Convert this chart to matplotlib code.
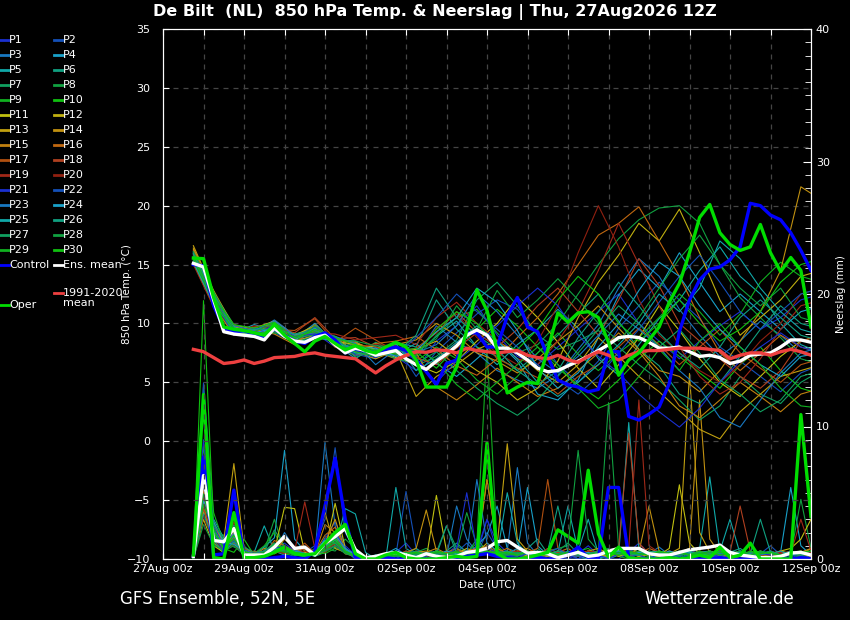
import matplotlib
matplotlib.use('Agg')
import matplotlib.pyplot as plt
from matplotlib.lines import Line2D
import numpy as np
from datetime import datetime, timedelta

W, H = 850, 620

# ---- data (hours counted from 27Aug 00z, 6-hourly from +18h) ----
ens_mean_t = [15.1, 14.8, 12.0, 9.3, 9.1, 9.0, 8.9, 8.6, 9.6, 8.9,
              8.5, 8.4, 8.8, 9.0, 8.2, 7.5, 7.9, 7.7, 7.3, 7.5,
              7.7, 7.0, 6.5, 6.1, 6.8, 7.4, 8.1, 9.0, 9.45, 9.0,
              7.9, 7.9, 7.5, 6.9, 6.2, 5.9, 6.0, 6.4, 6.8, 7.2,
              7.7, 8.2, 8.8, 8.9, 8.8, 8.4, 7.9, 7.9, 8.0, 7.6,
              7.2, 7.3, 7.1, 6.6, 6.8, 7.3, 7.4, 7.5, 8.0, 8.6,
              8.6, 8.4]
clim_t = [7.8, 7.6, 7.1, 6.6, 6.7, 6.9, 6.6, 6.8, 7.1, 7.15,
          7.2, 7.4, 7.5, 7.3, 7.2, 7.1, 7.0, 6.4, 5.8, 6.4,
          6.9, 7.3, 7.6, 7.55, 7.75, 7.7, 7.5, 7.9, 7.7, 7.6,
          7.5, 7.6, 7.7, 7.3, 7.1, 7.0, 7.3, 6.9, 6.7, 7.2,
          7.6, 7.3, 6.9, 7.3, 7.6, 7.7, 7.7, 7.8, 7.9, 7.9,
          7.9, 7.8, 7.7, 7.0, 7.3, 7.5, 7.5, 7.3, 7.6, 7.8,
          7.6, 7.3]
control_t = [15.0, 14.9, 11.5, 9.6, 9.3, 9.4, 9.1, 8.8, 9.6, 9.0,
             8.5, 8.3, 8.9, 9.2, 8.6, 7.5, 7.9, 7.7, 7.5, 7.8,
             8.0, 7.7, 6.9, 5.9, 4.8, 6.6, 6.9, 9.2, 9.2, 8.0,
             8.0, 10.6, 12.2, 9.7, 9.3, 7.2, 5.2, 4.8, 4.6, 4.2,
             4.4, 7.6, 7.6, 2.1, 1.8, 2.3, 2.9, 4.9, 9.3, 12.0,
             13.7, 14.6, 14.8, 15.4, 16.5, 20.2, 20.0, 19.2, 18.8, 17.7,
             16.2, 14.5]
oper_t = [15.55, 15.5, 12.2, 9.7, 9.5, 9.4, 9.2, 9.0, 9.9, 9.0,
          8.3, 7.6, 8.5, 8.9, 8.3, 7.75, 8.1, 7.7, 7.5, 8.0,
          8.4, 8.0, 6.9, 4.6, 4.6, 4.6, 6.3, 9.4, 12.85, 11.1,
          7.75, 4.1, 4.6, 5.0, 4.9, 7.75, 10.9, 10.1, 10.9, 11.0,
          10.5, 8.4, 5.6, 6.9, 7.5, 8.6, 9.7, 11.8, 13.4, 16.0,
          19.0, 20.1, 17.7, 16.7, 16.2, 16.5, 18.4, 16.0, 14.4, 15.6,
          14.5, 9.7]

ens_mean_pr = [0.2, 6.3, 1.4, 1.3, 2.3, 0.3, 0.3, 0.3, 0.9, 1.7,
               0.8, 0.9, 0.3, 1.2, 1.7, 2.3, 0.7, 0.1, 0.2, 0.4,
               0.5, 0.3, 0.1, 0.4, 0.2, 0.1, 0.2, 0.5, 0.6, 0.8,
               1.3, 1.4, 0.9, 0.45, 0.5, 0.4, 0.1, 0.3, 0.5, 0.2,
               0.3, 0.6, 0.8, 0.8, 0.8, 0.4, 0.3, 0.3, 0.5, 0.7,
               0.8, 0.9, 1.05, 0.5, 0.3, 0.2, 0.1, 0.1, 0.2, 0.45,
               0.5, 0.3]
control_pr = [0.2, 7.7, 0.3, 0.4, 5.2, 0.1, 0.0, 0.0, 0.1, 0.2,
              0.1, 0.0, 0.6, 4.0, 7.6, 3.0, 0.1, 0.0, 0.0, 0.1,
              0.0, 0.0, 0.1, 0.0, 0.0, 0.0, 0.1, 0.2, 0.3, 0.4,
              0.2, 0.1, 0.0, 0.0, 0.1, 0.0, 0.0, 0.3, 0.9, 0.1,
              0.0, 5.4, 5.4, 0.1, 0.0, 0.0, 0.0, 0.0, 0.0, 0.1,
              0.0, 0.0, 0.1, 0.0, 0.0, 0.0, 0.0, 0.1, 0.0, 0.0,
              0.1, 0.0]
oper_pr = [0.3, 12.4, 0.1, 0.0, 3.5, 0.1, 0.1, 0.2, 0.5, 0.9,
           0.4, 0.3, 0.4, 1.2, 2.0, 2.6, 0.4, 0.0, 0.0, 0.3,
           0.5, 0.1, 0.0, 0.0, 0.0, 0.1, 0.2, 0.1, 0.2, 8.75,
           0.4, 0.0, 0.0, 0.1, 0.3, 0.5, 2.2, 1.7, 1.2, 6.7,
           1.9, 0.15, 0.9, 0.1, 0.0, 0.0, 0.0, 0.1, 0.0, 0.1,
           0.3, 0.1, 0.9, 0.1, 0.3, 1.2, 0.0, 0.0, 0.0, 0.0,
           10.9, 3.2]

# members: temperature every 12 h from +18h
p1_t = [15.8, 12.0, 9.4, 9.0, 9.8, 8.6, 9.2, 8.0, 7.6, 7.9, 7.2, 6.0, 8.5, 9.8, 11.5, 9.0, 7.2, 6.5, 8.0, 9.5, 11.0, 12.5, 10.0, 8.5, 7.0, 8.5, 9.8, 11.0, 9.5, 10.5, 12.0, 12.5]
p2_t = [15.4, 11.6, 9.0, 9.6, 9.2, 8.4, 9.4, 8.8, 7.4, 7.0, 8.1, 5.5, 7.6, 9.2, 10.8, 12.0, 11.2, 9.0, 6.5, 5.0, 6.8, 9.6, 11.5, 13.5, 12.0, 10.4, 8.0, 6.8, 5.5, 4.2, 5.8, 6.5]
p3_t = [16.1, 12.4, 9.8, 9.2, 10.3, 9.0, 9.6, 8.2, 7.8, 7.5, 7.8, 7.2, 9.8, 8.4, 7.5, 6.0, 5.2, 4.5, 5.6, 7.8, 9.9, 13.0, 15.5, 14.0, 11.2, 9.0, 7.2, 8.5, 10.2, 9.0, 7.5, 7.0]
p4_t = [15.9, 12.5, 9.2, 9.9, 9.4, 8.7, 10.0, 8.3, 7.0, 8.2, 7.4, 8.3, 6.6, 5.5, 7.0, 8.5, 6.8, 4.0, 3.5, 5.2, 8.8, 12.4, 14.6, 13.0, 16.0, 13.5, 11.0, 12.5, 11.0, 9.5, 11.0, 11.5]
p5_t = [15.2, 11.8, 9.6, 8.9, 9.5, 8.5, 8.9, 8.6, 8.5, 7.2, 7.7, 7.4, 8.9, 10.2, 8.0, 6.5, 8.2, 9.5, 11.2, 9.6, 7.0, 5.6, 8.2, 10.4, 12.0, 14.5, 16.5, 14.0, 12.5, 10.0, 8.2, 7.5]
p6_t = [15.7, 12.2, 9.5, 9.3, 10.0, 8.9, 9.7, 8.5, 8.1, 7.4, 8.4, 8.0, 12.0, 9.5, 8.0, 7.2, 6.0, 7.5, 9.0, 10.8, 12.5, 10.2, 7.8, 6.4, 4.0, 3.2, 5.0, 7.2, 9.5, 11.5, 10.0, 9.5]
p7_t = [15.5, 11.9, 9.1, 8.8, 9.7, 8.3, 9.0, 8.7, 7.2, 8.4, 7.5, 6.4, 7.2, 8.6, 12.0, 13.5, 11.5, 9.0, 7.8, 8.5, 9.4, 8.0, 6.5, 5.2, 3.5, 1.8, 3.0, 5.5, 4.0, 3.2, 5.0, 6.0]
p8_t = [16.0, 12.6, 9.9, 9.5, 9.9, 9.1, 9.5, 8.9, 7.9, 7.6, 8.0, 7.0, 9.0, 10.5, 11.2, 9.2, 7.5, 8.2, 10.0, 12.5, 15.0, 17.2, 18.8, 19.8, 20.0, 18.5, 15.0, 12.2, 10.5, 8.8, 7.0, 6.5]
p9_t = [15.3, 11.7, 9.3, 9.1, 9.3, 8.6, 9.3, 8.4, 7.7, 7.7, 7.3, 6.8, 8.0, 7.0, 5.2, 4.0, 5.5, 7.5, 9.2, 7.4, 6.0, 7.5, 8.8, 10.5, 12.5, 11.0, 9.0, 10.8, 13.5, 15.2, 14.0, 13.5]
p10_t = [15.6, 12.1, 9.7, 9.4, 10.1, 8.8, 9.1, 8.6, 7.5, 7.3, 7.9, 7.6, 6.2, 8.0, 9.5, 11.2, 9.8, 8.0, 6.2, 4.8, 3.6, 5.2, 7.0, 8.5, 7.2, 5.8, 4.5, 6.5, 8.0, 6.0, 4.5, 4.0]
p11_t = [16.3, 12.3, 9.4, 8.9, 9.6, 8.7, 9.3, 8.7, 8.3, 7.8, 7.1, 6.5, 5.8, 6.8, 8.5, 10.0, 12.2, 10.5, 8.4, 6.2, 4.5, 6.5, 8.8, 11.5, 9.4, 7.0, 5.0, 3.8, 5.5, 7.2, 8.5, 9.0]
p12_t = [15.9, 12.5, 9.8, 9.6, 10.2, 9.0, 9.8, 8.5, 8.2, 8.0, 7.6, 7.8, 8.5, 7.2, 6.0, 5.0, 3.5, 4.5, 6.8, 10.5, 13.5, 15.8, 18.5, 17.0, 19.7, 16.0, 12.0, 9.0, 10.5, 12.0, 14.0, 14.5]
p13_t = [16.6, 12.7, 9.5, 9.0, 9.4, 8.5, 9.0, 8.8, 7.6, 7.0, 7.7, 3.8, 5.5, 6.5, 7.8, 8.5, 7.5, 6.0, 5.0, 6.5, 8.8, 7.2, 5.5, 4.2, 2.6, 1.0, 0.2, 2.5, 4.0, 5.5, 6.0, 6.5]
p14_t = [16.4, 12.8, 9.7, 9.4, 9.8, 8.9, 9.5, 8.6, 8.4, 7.7, 8.2, 8.6, 10.0, 9.0, 7.5, 6.8, 5.8, 7.0, 8.5, 9.8, 11.5, 9.6, 7.8, 6.0, 5.5, 4.2, 6.0, 8.5, 11.0, 14.5, 21.6, 20.5]
p15_t = [15.1, 11.5, 9.0, 9.5, 9.1, 8.2, 9.9, 8.0, 7.3, 7.6, 7.0, 7.5, 4.6, 3.5, 4.8, 6.2, 5.0, 3.8, 4.5, 6.0, 7.5, 9.2, 7.6, 5.5, 3.0, 2.0, 3.5, 5.0, 3.8, 2.5, 4.0, 4.5]
p16_t = [16.2, 12.6, 9.3, 9.7, 9.9, 8.6, 9.4, 8.3, 7.8, 8.3, 8.5, 8.9, 7.8, 6.4, 5.6, 7.0, 8.8, 10.5, 12.5, 15.0, 17.5, 18.5, 19.9, 17.0, 14.0, 10.5, 7.5, 6.0, 7.5, 9.0, 8.0, 7.5]
p17_t = [15.4, 12.0, 9.9, 9.2, 9.5, 9.4, 10.4, 8.4, 9.6, 8.6, 7.6, 7.9, 9.2, 11.0, 9.2, 7.0, 6.2, 5.4, 4.0, 5.5, 6.5, 8.0, 9.6, 8.2, 6.5, 8.0, 9.5, 7.5, 6.2, 5.0, 6.5, 7.0]
p18_t = [15.8, 12.2, 9.6, 9.1, 9.7, 9.2, 10.5, 8.7, 8.8, 8.0, 7.4, 7.1, 6.5, 7.9, 9.2, 8.0, 9.5, 11.5, 13.0, 11.0, 9.0, 12.0, 15.5, 13.2, 10.0, 8.5, 7.0, 5.5, 4.5, 6.0, 8.5, 9.0]
p19_t = [15.0, 11.4, 9.4, 9.3, 9.3, 8.8, 9.2, 9.1, 8.6, 8.8, 9.0, 8.2, 10.5, 11.8, 10.0, 8.6, 7.0, 6.5, 8.5, 11.0, 14.5, 18.5, 15.0, 11.5, 8.0, 5.5, 4.0, 5.0, 7.0, 9.5, 11.5, 12.0]
p20_t = [15.6, 12.1, 9.2, 9.8, 9.6, 8.5, 9.6, 8.2, 8.0, 8.2, 8.1, 7.3, 9.6, 10.8, 8.8, 7.5, 6.5, 8.5, 11.5, 16.0, 20.0, 16.5, 12.0, 9.0, 7.5, 6.0, 5.0, 6.5, 8.5, 10.0, 12.5, 13.0]
p21_t = [15.7, 12.3, 9.5, 9.0, 9.9, 8.9, 9.1, 8.5, 7.7, 7.1, 7.9, 6.9, 5.0, 6.8, 8.2, 9.8, 11.5, 13.0, 11.5, 9.0, 7.2, 5.8, 4.0, 2.5, 1.2, 2.8, 5.0, 6.8, 8.0, 9.2, 8.0, 7.5]
p22_t = [15.3, 11.9, 9.1, 9.6, 9.3, 8.7, 9.7, 8.7, 7.3, 7.4, 7.3, 8.8, 10.5, 12.5, 11.0, 9.5, 8.0, 6.5, 5.2, 4.0, 5.5, 7.5, 9.5, 11.8, 14.0, 15.8, 13.5, 11.0, 9.5, 11.0, 12.5, 13.0]
p23_t = [16.0, 12.4, 9.8, 9.4, 10.2, 9.0, 9.2, 8.9, 8.3, 6.5, 7.8, 7.5, 8.2, 9.8, 12.5, 11.0, 9.0, 7.0, 5.8, 7.2, 9.0, 10.8, 9.5, 8.0, 6.0, 4.5, 2.0, 1.2, 3.5, 5.8, 7.5, 8.0]
p24_t = [15.6, 12.0, 9.3, 9.2, 9.6, 8.6, 9.6, 8.2, 8.0, 7.9, 7.2, 7.7, 9.3, 10.5, 13.0, 11.8, 9.4, 6.2, 4.5, 5.8, 8.0, 10.0, 12.8, 15.2, 14.0, 11.5, 9.5, 8.0, 6.5, 5.5, 7.2, 7.5]
p25_t = [15.2, 11.6, 9.7, 8.8, 9.8, 8.3, 8.8, 8.5, 7.5, 7.3, 8.3, 6.0, 7.0, 8.4, 9.8, 8.5, 7.0, 5.0, 3.8, 5.0, 6.5, 8.2, 10.0, 12.5, 11.0, 13.0, 17.0, 15.5, 13.0, 11.0, 9.5, 9.0]
p26_t = [15.9, 12.5, 9.4, 9.5, 9.5, 9.1, 9.4, 8.4, 7.9, 7.5, 7.5, 9.0, 13.0, 10.5, 9.0, 7.8, 6.0, 4.8, 6.0, 8.8, 11.0, 13.5, 11.5, 9.2, 7.5, 6.2, 8.0, 10.5, 12.0, 10.5, 9.0, 8.5]
p27_t = [15.5, 12.1, 9.2, 9.0, 9.4, 8.8, 9.0, 8.9, 7.1, 7.8, 7.0, 6.6, 7.6, 6.0, 4.5, 3.2, 2.2, 3.5, 5.5, 7.5, 9.5, 11.5, 10.0, 8.0, 9.5, 7.5, 5.2, 4.0, 2.5, 3.5, 5.5, 6.0]
p28_t = [16.1, 12.7, 9.6, 9.3, 10.0, 8.4, 9.8, 8.6, 8.5, 8.1, 8.0, 7.6, 8.7, 11.5, 9.5, 12.8, 10.5, 12.0, 13.8, 12.0, 10.0, 8.5, 10.5, 13.0, 15.5, 17.5, 15.0, 13.0, 11.5, 13.0, 10.5, 10.0]
p29_t = [15.4, 11.8, 9.5, 9.2, 9.2, 8.9, 9.3, 8.3, 7.6, 7.2, 7.6, 7.9, 6.8, 4.8, 3.5, 5.0, 6.5, 8.0, 6.5, 4.5, 2.8, 3.5, 5.5, 7.8, 6.0, 8.5, 10.0, 8.0, 6.5, 4.5, 3.0, 2.8]
p30_t = [15.7, 12.2, 9.9, 9.6, 10.1, 8.7, 9.5, 8.8, 8.2, 7.7, 7.4, 7.3, 9.5, 11.0, 10.0, 8.0, 7.8, 9.5, 12.0, 14.0, 12.5, 10.0, 8.5, 10.0, 12.0, 10.0, 8.5, 9.5, 11.0, 13.5, 15.0, 15.5]

# members: precipitation every 6 h from +18h (mm)
p1_pr = [0, 4.2, 1.8, 0.6, 2.0, 0.3, 0, 0.5, 0.8, 1.2, 0.6, 0.4, 0.2, 1.5, 2.8, 1.0, 0.3, 0, 0, 0.2, 0.5, 1.2, 0.3, 0, 0, 0.4, 1.0, 0.6, 0.3, 3.0, 1.2, 0.5, 0.3, 0, 0.6, 0.2, 0, 0, 0.4, 1.0, 0.3, 0, 0, 0.5, 1.2, 0.4, 0, 0, 0.3, 0.8, 0.2, 0, 0, 0.4, 0.6, 0, 0, 0.2, 0.5, 0.3, 0, 0.2]
p2_pr = [0, 5.5, 2.2, 0.8, 1.5, 0.4, 0.2, 0, 0.6, 0.9, 0.3, 0.5, 1.0, 3.0, 8.4, 2.0, 0.5, 0, 0, 0, 0.3, 5.1, 0.8, 0, 0.2, 0, 0.5, 1.2, 0.4, 2.0, 0.8, 0.3, 0, 0, 0.2, 0.5, 0.3, 0, 0, 0.6, 0.2, 0, 0.4, 0.8, 0.3, 0, 0, 0.5, 0.2, 0, 0, 0.3, 0.8, 0.2, 0, 0, 0.4, 1.0, 0.3, 0, 0.2, 0]
p3_pr = [0, 3.6, 1.4, 1.0, 2.4, 0.6, 0, 0.3, 0.5, 2.0, 0.8, 0.2, 0.4, 8.8, 2.5, 0.6, 0, 0, 0.3, 0, 0, 0.6, 0.3, 0.5, 0, 0.2, 4.0, 1.5, 0.5, 1.0, 0.4, 0.6, 6.9, 1.2, 0.3, 0, 0.2, 0.5, 0, 0, 0, 0.3, 0.6, 0.2, 0, 0.4, 0.9, 0.3, 0, 0.5, 0.3, 0, 0, 0.5, 0.2, 0, 0.3, 0.6, 0.2, 0, 0, 0.3]
p4_pr = [0, 6.2, 2.6, 1.2, 1.8, 0.5, 0.4, 0.9, 1.6, 8.2, 1.5, 0.6, 0.3, 0.8, 1.6, 0.5, 0.2, 0, 0, 0.4, 0.8, 0.3, 0, 0.2, 0.5, 0.3, 0.6, 0.3, 1.0, 1.8, 4.0, 0.8, 0.5, 5.4, 1.0, 0.3, 0, 0.4, 0.2, 0, 0, 0.5, 0.3, 0.2, 0.6, 0.3, 0, 0.2, 0.4, 0.8, 0.5, 0.2, 0, 0, 0.4, 0.2, 0, 0.3, 0.5, 5.4, 1.0, 0.3]
p5_pr = [0, 4.8, 3.0, 1.6, 1.2, 0.8, 0.5, 2.5, 0.6, 0.3, 0.5, 0.2, 0.6, 1.0, 0.8, 3.8, 3.4, 0.5, 0, 0, 5.4, 0.8, 0.3, 0, 0, 0.2, 0.5, 0.3, 0.8, 0.5, 0.3, 5.0, 1.2, 0.4, 0, 0.2, 0.5, 4.0, 0.6, 3.0, 0.4, 0, 0.3, 10.3, 0.8, 0.2, 0, 0, 0.3, 0.5, 0.8, 6.2, 0.6, 3.0, 0.4, 0, 0.2, 0, 0.3, 0.5, 0.2, 0]
p6_pr = [0, 5.0, 1.5, 0.4, 2.6, 1.0, 0.2, 0.3, 1.2, 0.8, 0.4, 0.6, 0.2, 0.5, 1.5, 0.8, 0.2, 0, 0.3, 0, 0.2, 0.4, 0.8, 0.3, 0, 0.6, 1.2, 0.5, 0.3, 0.8, 0.5, 0.3, 0.2, 0.8, 1.5, 0.4, 0, 0.3, 0.6, 0.2, 0, 0.2, 0.5, 0.3, 0.8, 0.2, 0, 0.4, 0.2, 0.6, 0.3, 0, 0.2, 0.5, 0.8, 0.3, 0, 0, 0.4, 0.2, 0.5, 0.2]
p7_pr = [0, 7.0, 2.0, 1.8, 0.9, 0.6, 0.3, 0.5, 2.2, 1.0, 0.5, 0.3, 0.8, 0.6, 1.2, 0.5, 0.2, 0, 0, 0.3, 0.6, 0.3, 0.2, 0, 0.5, 2.5, 0.8, 0.4, 1.5, 0.6, 0.3, 0.2, 0.5, 0.3, 0.8, 0.2, 0.6, 1.2, 0.4, 0.3, 0.5, 0.8, 0.3, 0.6, 0.2, 0, 0.4, 0.3, 0.2, 0.5, 0.2, 0.6, 0.3, 0, 0.2, 0.5, 0.3, 0.2, 0, 0.4, 0.3, 0.6]
p8_pr = [0, 8.5, 1.2, 0.5, 1.6, 0.4, 0.2, 0.6, 3.0, 0.6, 0.3, 0.5, 0.2, 0.8, 0.6, 1.5, 0.8, 0.2, 0, 0, 0.3, 0.2, 0.5, 0.8, 0.3, 0, 0.5, 3.5, 1.0, 0.8, 0.4, 0.2, 0, 0.3, 0.5, 0.6, 0.8, 1.0, 8.2, 1.5, 0.6, 11.8, 0.8, 0.3, 0, 0.2, 0.5, 0.3, 0, 0.4, 0.2, 0, 0.3, 0.5, 0.2, 0, 0.3, 0.2, 0.6, 0.3, 4.5, 0.8]
p9_pr = [0, 13.0, 3.5, 1.2, 1.0, 0.6, 0.4, 1.0, 2.0, 0.5, 0.3, 0.2, 0.6, 0.4, 0.8, 3.0, 0.6, 0, 0.2, 0, 0, 0.5, 0.3, 0.2, 0.6, 0.3, 0.8, 0.5, 1.2, 16.0, 1.0, 0.3, 0.5, 0.2, 0, 0.4, 0.6, 0.3, 0.5, 0.2, 0.3, 0.5, 0.2, 0, 0.6, 0.3, 0.2, 0.5, 0.3, 0, 0.4, 0.2, 0.8, 0.3, 0, 0.2, 0.5, 0.3, 0.2, 0, 0.3, 0.5]
p10_pr = [0, 19.5, 2.5, 0.8, 0.5, 1.5, 0.3, 0.2, 0.8, 0.4, 0.2, 0.6, 0.3, 0.5, 1.0, 0.6, 0.3, 0, 0, 0.2, 0.4, 0.2, 0, 0.3, 0.5, 0.2, 0.6, 0.4, 0.3, 0.8, 0.5, 0.2, 0.3, 0.6, 0.2, 0, 0.4, 0.3, 0.6, 0.8, 0.2, 0.4, 0.6, 0.3, 0, 0.5, 0.2, 0.3, 0.4, 0.2, 0.6, 0.3, 0, 0.2, 0.4, 0.3, 0, 0.5, 0.2, 0.3, 0.2, 0.4]
p11_pr = [0, 3.0, 1.0, 0.5, 3.2, 0.5, 0.2, 0.3, 0.6, 3.9, 3.8, 0.5, 0.3, 0.6, 4.2, 0.8, 0.2, 0, 0, 0.3, 0.2, 0.5, 0.3, 0, 4.8, 0.6, 0.3, 0.2, 0.5, 0.8, 0.4, 0.3, 0.6, 0.2, 0.5, 0.3, 0, 0.2, 0.4, 0.6, 0.3, 0.2, 0.5, 0.4, 0.2, 0.6, 0.3, 0.8, 5.6, 1.2, 0.4, 0.2, 0.6, 0.3, 0, 0.2, 0.4, 0.3, 0.6, 0.8, 1.5, 3.0]
p12_pr = [0, 3.5, 1.6, 0.8, 2.0, 0.4, 0.3, 0.6, 0.4, 0.8, 0.6, 0.3, 0.5, 1.0, 1.6, 0.4, 0.2, 0, 0, 0, 0.3, 0.2, 0.5, 0.3, 0.6, 0.2, 0.4, 0.8, 0.5, 1.2, 0.6, 0.3, 0.8, 0.4, 0.2, 0.5, 0.3, 0.2, 0.6, 0.4, 0.3, 0.5, 0.2, 0.4, 0.8, 0.3, 0.2, 0.5, 0.3, 0.6, 0.4, 0.2, 0.3, 0.6, 0.2, 0, 0.3, 0.5, 0.2, 0.4, 0.6, 0.3]
p13_pr = [0, 4.5, 2.4, 1.4, 7.2, 0.8, 0.5, 0.4, 1.0, 0.6, 0.4, 0.3, 0.6, 3.5, 0.8, 0.5, 0.3, 0, 0.2, 0, 0.4, 0.3, 0.5, 0.6, 0.3, 0.2, 0.5, 0.6, 0.4, 6.0, 1.0, 8.7, 1.5, 0.6, 0.3, 0.2, 0.5, 0.3, 0.2, 0.6, 0.4, 0.2, 0.3, 0.5, 0.2, 0.3, 0.6, 0.4, 0.8, 14.0, 2.0, 0.5, 0.3, 0.2, 0.4, 0.2, 0.3, 0.5, 0.2, 0.3, 0.5, 0.8]
p14_pr = [0, 6.5, 1.8, 1.0, 1.4, 0.6, 0.3, 0.8, 0.5, 1.5, 0.8, 0.4, 0.3, 1.2, 3.0, 0.6, 0.2, 0, 0, 0.2, 0.3, 0.5, 0.8, 3.7, 0.6, 0.3, 0.2, 0.4, 0.6, 0.8, 0.5, 0.3, 0.6, 0.8, 0.4, 0.3, 0.2, 0.5, 0.3, 0.6, 0.8, 0.4, 0.3, 0.6, 0.5, 4.0, 0.6, 0.3, 0.5, 0.8, 12.0, 1.5, 0.4, 0.3, 0.2, 0.5, 0.3, 0.2, 0.6, 0.4, 0.3, 0.8]
p15_pr = [0, 4.0, 1.2, 0.6, 2.2, 0.5, 0.2, 0.4, 0.8, 0.6, 0.5, 0.6, 0.4, 2.6, 2.0, 0.8, 0.3, 0, 0, 0, 0.2, 0.4, 0.3, 0.5, 0.8, 0.4, 0.3, 0.6, 0.8, 6.0, 0.8, 0.4, 0.3, 0.2, 0.5, 0.3, 0.6, 0.4, 0.2, 0.5, 0.3, 0.6, 0.4, 0.2, 0.3, 0.5, 0.2, 0.6, 0.4, 0.3, 0.5, 0.3, 0.2, 0.4, 0.6, 0.3, 0.2, 0.4, 0.6, 0.3, 0.4, 0.2]
p16_pr = [0, 5.2, 2.8, 0.9, 1.8, 0.4, 0.6, 0.3, 1.4, 1.0, 0.6, 0.8, 0.5, 1.8, 2.4, 0.6, 0.3, 0.2, 0, 0, 0.3, 0.2, 0.6, 0.4, 0.3, 0.5, 0.8, 0.3, 0.6, 1.0, 0.5, 0.8, 0.3, 0.6, 0.4, 0.3, 0.5, 0.8, 0.3, 0.4, 0.6, 0.3, 0.5, 0.2, 0.4, 0.8, 0.5, 0.3, 0.6, 0.4, 0.3, 0.6, 0.4, 0.2, 0.5, 0.3, 0.6, 0.2, 0.4, 0.6, 0.3, 0.5]
p17_pr = [0, 3.8, 1.5, 1.0, 1.2, 0.5, 0.3, 0.6, 0.4, 0.8, 0.6, 1.2, 0.4, 0.8, 1.0, 0.5, 0.2, 0, 0.2, 0, 0.3, 0.6, 0.4, 0.3, 0.5, 0.4, 0.6, 0.3, 0.5, 0.6, 0.4, 0.6, 0.3, 0.5, 0.8, 6.0, 0.8, 0.4, 0.3, 0.6, 0.4, 0.3, 0.6, 0.5, 0.3, 0.6, 0.4, 0.3, 0.5, 0.6, 0.3, 0.5, 0.4, 0.3, 0.6, 0.3, 0.2, 0.5, 0.4, 0.3, 0.6, 0.4]
p18_pr = [0, 4.6, 2.0, 0.7, 1.6, 0.6, 0.4, 0.3, 0.8, 0.5, 0.4, 0.8, 0.6, 1.0, 1.8, 0.6, 0.3, 0, 0, 0.3, 0.4, 0.2, 0.5, 0.3, 0.6, 0.4, 0.3, 0.5, 0.8, 0.6, 0.3, 0.5, 0.6, 0.4, 0.3, 0.8, 0.5, 0.3, 0.6, 0.4, 0.5, 0.3, 0.8, 9.5, 1.2, 0.4, 0.3, 0.6, 0.4, 0.3, 0.6, 0.4, 0.3, 0.5, 4.0, 0.6, 0.3, 0.4, 0.6, 0.3, 0.5, 0.3]
p19_pr = [0, 5.8, 1.6, 0.5, 2.8, 0.8, 0.3, 0.5, 0.6, 0.4, 0.6, 4.3, 0.8, 0.5, 1.2, 0.4, 0.3, 0, 0, 0, 0.3, 0.5, 0.4, 0.2, 0.3, 0.6, 0.5, 0.3, 0.4, 0.8, 0.5, 0.3, 0.6, 0.4, 0.5, 0.3, 0.6, 0.4, 0.3, 0.5, 0.6, 0.4, 0.3, 0.8, 12.0, 1.0, 0.5, 0.3, 0.4, 0.6, 0.4, 0.3, 0.5, 0.6, 0.3, 0.4, 0.6, 0.3, 0.5, 0.4, 3.0, 0.6]
p20_pr = [0, 3.2, 1.3, 0.8, 1.0, 0.4, 0.5, 0.3, 0.6, 0.5, 0.4, 0.6, 0.3, 0.8, 1.4, 0.5, 0.3, 0, 0, 0, 0.2, 0.4, 0.3, 0.5, 0.3, 0.4, 0.6, 0.3, 0.5, 0.4, 0.6, 0.3, 0.5, 0.4, 0.3, 0.6, 0.4, 0.5, 0.3, 0.6, 0.4, 0.5, 0.3, 0.6, 0.4, 0.3, 0.5, 0.4, 0.3, 0.5, 0.3, 0.4, 0.6, 0.3, 0.5, 0.4, 0.3, 0.6, 0.4, 0.3, 0.4, 0.5]
p21_pr = [0, 9.0, 2.5, 0.9, 2.2, 0.5, 0.3, 0.4, 0.8, 1.0, 0.5, 0.3, 0.6, 1.2, 2.0, 0.8, 0.2, 0, 0, 0.3, 0.6, 0.4, 0.3, 0.2, 0.5, 0.3, 0.8, 5.0, 0.6, 3.0, 0.6, 0.3, 0, 0.5, 0.3, 0, 0.4, 0.3, 0, 0.4, 0.3, 0, 0.4, 0.6, 0.3, 0, 0.4, 0.3, 0, 0.4, 0.5, 0, 0.4, 0.6, 0.3, 0, 0.4, 0.3, 0, 0.4, 0.3, 0]
p22_pr = [0, 13.3, 1.8, 0.6, 1.4, 0.3, 0.2, 0.5, 0.6, 0.8, 0.3, 0.2, 0.4, 0.6, 1.0, 0.5, 0.2, 0, 0, 0, 0.2, 0.3, 0.5, 0.3, 0.2, 0.4, 0.3, 0.6, 0.5, 0.8, 0.5, 0.3, 0.2, 0.4, 0.3, 0.5, 0.8, 0.3, 0.2, 0.4, 0.3, 0.6, 0.4, 0.2, 0.3, 0.5, 0.3, 0.4, 0.2, 0.6, 0.4, 0.3, 0.2, 0.5, 0.3, 0.2, 0.4, 0.6, 0.3, 0.2, 0.4, 0.3]
p23_pr = [0, 5.6, 2.2, 1.1, 1.9, 0.7, 0.4, 0.6, 1.0, 1.6, 0.7, 0.4, 0.3, 1.6, 1.2, 0.6, 0.3, 0, 0, 0.2, 0.3, 0.5, 0.3, 0.4, 0.6, 0.3, 0.5, 0.4, 6.0, 1.2, 0.6, 0.4, 0.8, 0.3, 0.5, 0.4, 0.3, 0.6, 0.4, 0.3, 0.5, 0.3, 0.4, 0.6, 0.3, 0.4, 0.5, 0.3, 0.6, 0.4, 0.3, 0.5, 0.4, 0.3, 0.6, 0.4, 0.3, 0.5, 0.3, 0.6, 0.4, 0.3]
p24_pr = [0, 4.4, 2.8, 1.3, 1.1, 0.6, 0.3, 0.4, 0.7, 0.9, 0.5, 0.3, 0.6, 1.4, 1.8, 0.8, 0.3, 0, 0.2, 0, 0.3, 0.4, 0.2, 0.5, 0.3, 0.6, 0.4, 0.3, 0.5, 0.6, 0.4, 0.6, 0.3, 0.5, 0.4, 0.3, 0.6, 0.4, 0.3, 0.5, 0.3, 0.4, 0.6, 0.3, 0.5, 0.4, 0.3, 0.6, 0.4, 0.3, 0.5, 0.6, 0.3, 0.4, 0.5, 0.3, 0.6, 0.4, 0.3, 0.5, 0.3, 0.4]
p25_pr = [0, 6.8, 2.0, 0.8, 1.7, 0.5, 0.4, 0.3, 0.5, 0.8, 0.6, 0.4, 0.3, 1.0, 1.4, 0.7, 0.3, 0, 0, 0, 0.3, 0.5, 0.4, 0.3, 0.6, 0.4, 0.3, 0.5, 0.4, 0.6, 0.3, 0.5, 0.4, 0.6, 0.3, 0.5, 0.4, 0.3, 0.6, 0.4, 0.5, 0.3, 0.6, 0.4, 0.3, 0.5, 0.6, 0.4, 0.3, 0.5, 0.4, 0.3, 0.5, 0.6, 0.4, 0.3, 0.5, 0.4, 0.6, 0.3, 0.5, 0.4]
p26_pr = [0, 3.4, 1.4, 0.5, 1.3, 0.4, 0.2, 0.5, 0.9, 0.6, 0.4, 0.3, 0.5, 0.8, 1.6, 0.5, 0.2, 0, 0, 0, 0.2, 0.3, 0.5, 0.4, 0.3, 2.5, 0.4, 0.3, 0.5, 0.4, 0.6, 0.3, 0.5, 0.4, 0.3, 0.6, 4.0, 0.5, 0.3, 0.4, 0.3, 0.5, 0.4, 0.6, 0.3, 0.4, 0.5, 0.3, 0.4, 0.6, 0.3, 0.4, 0.5, 0.3, 0.6, 0.4, 3.0, 0.5, 0.3, 0.4, 0.5, 0.3]
p27_pr = [0, 7.6, 2.6, 1.5, 2.4, 0.9, 0.5, 0.6, 1.2, 0.7, 0.5, 0.4, 0.3, 0.9, 1.2, 0.6, 0.3, 0, 0, 0.2, 0.3, 0.4, 0.6, 0.3, 0.5, 0.4, 0.3, 0.6, 0.4, 0.5, 0.3, 0.6, 0.4, 0.5, 0.3, 0.4, 0.6, 0.3, 0.5, 0.4, 0.6, 0.3, 0.5, 0.4, 0.3, 0.6, 0.4, 0.5, 0.3, 0.4, 0.5, 0.3, 0.6, 0.4, 0.3, 0.5, 0.4, 0.6, 0.3, 0.5, 0.4, 0.6]
p28_pr = [0, 2.6, 1.1, 0.6, 1.0, 0.3, 0.2, 0.4, 0.5, 0.6, 0.3, 0.2, 0.4, 0.6, 1.0, 0.4, 0.2, 0, 0, 0, 0.2, 0.4, 0.3, 0.5, 0.4, 0.3, 0.5, 0.4, 0.3, 0.6, 0.4, 0.3, 0.5, 0.4, 0.6, 0.3, 0.4, 0.5, 0.3, 0.4, 0.3, 0.4, 0.5, 0.3, 0.6, 0.4, 0.3, 0.5, 0.4, 0.3, 0.4, 0.5, 0.3, 0.4, 0.6, 0.3, 0.5, 0.4, 0.3, 0.5, 0.3, 0.4]
p29_pr = [0, 4.9, 1.9, 0.9, 1.5, 0.6, 0.3, 0.5, 0.7, 0.5, 0.4, 0.3, 0.5, 0.7, 1.3, 0.5, 0.3, 0, 0, 0.2, 0.3, 0.5, 0.4, 0.3, 0.5, 0.4, 0.6, 0.3, 0.5, 0.4, 0.6, 0.4, 0.3, 0.5, 0.4, 0.6, 0.3, 0.5, 0.4, 0.3, 0.5, 0.4, 0.3, 0.6, 0.4, 0.3, 0.5, 0.4, 0.6, 0.3, 0.4, 0.6, 0.3, 0.5, 0.4, 0.3, 0.6, 0.4, 0.3, 0.5, 0.6, 0.3]
p30_pr = [0, 4.1, 2.3, 0.7, 1.8, 0.5, 0.4, 0.3, 1.1, 0.8, 0.5, 0.3, 0.4, 0.8, 1.5, 0.6, 0.2, 0, 0, 0, 0.3, 0.4, 0.5, 0.3, 0.6, 0.4, 0.5, 0.3, 0.4, 0.6, 0.4, 0.5, 0.3, 0.6, 0.4, 0.5, 0.3, 0.4, 0.6, 0.3, 0.4, 0.6, 0.3, 0.5, 0.4, 0.3, 0.6, 0.4, 0.5, 0.3, 0.6, 0.3, 0.5, 0.4, 0.3, 0.6, 0.4, 0.5, 0.3, 0.4, 0.5, 0.6]

member_t = [p1_t, p2_t, p3_t, p4_t, p5_t, p6_t, p7_t, p8_t, p9_t, p10_t,
            p11_t, p12_t, p13_t, p14_t, p15_t, p16_t, p17_t, p18_t, p19_t, p20_t,
            p21_t, p22_t, p23_t, p24_t, p25_t, p26_t, p27_t, p28_t, p29_t, p30_t]
member_pr = [p1_pr, p2_pr, p3_pr, p4_pr, p5_pr, p6_pr, p7_pr, p8_pr, p9_pr, p10_pr,
             p11_pr, p12_pr, p13_pr, p14_pr, p15_pr, p16_pr, p17_pr, p18_pr, p19_pr, p20_pr,
             p21_pr, p22_pr, p23_pr, p24_pr, p25_pr, p26_pr, p27_pr, p28_pr, p29_pr, p30_pr]

member_colors = ['#1a30d0', '#1450b8', '#1878c0', '#18a0c8', '#10a8a8',
                 '#10a080', '#10a060', '#10a040', '#10b020', '#10c010',
                 '#c0c010', '#c0b010', '#c0a010', '#c09010', '#c08010',
                 '#c06810', '#b05010', '#b04020', '#a02818', '#902010']

start = datetime(2026, 8, 27, 0)


def hours6(n):
    return 18 + 6 * np.arange(n)


def hours12(n):
    return 18 + 12 * np.arange(n)


fig = plt.figure(figsize=(W / 100, H / 100), dpi=100, facecolor='black')
ax = fig.add_axes([163 / W, 1 - 559 / H, (811 - 163) / W, (559 - 29) / H])
ax.set_facecolor('black')
ax2 = ax.twinx()

for i, (mt, mp) in enumerate(zip(member_t, member_pr)):
    c = member_colors[i % 20]
    ax.plot(hours12(len(mt)), mt, color=c, lw=0.8)
    ax2.plot(hours6(len(mp)), mp, color=c, lw=0.8)

ax2.plot(hours6(len(control_pr)), control_pr, color='#0000ff', lw=2.4)
ax2.plot(hours6(len(ens_mean_pr)), ens_mean_pr, color='white', lw=2.4)
ax2.plot(hours6(len(oper_pr)), oper_pr, color='#00dd00', lw=2.4)

ax.plot(hours6(len(control_t)), control_t, color='#0000ff', lw=2.4)
ax.plot(hours6(len(ens_mean_t)), ens_mean_t, color='white', lw=2.4)
ax.plot(hours6(len(clim_t)), clim_t, color='#ee4040', lw=2.4)
ax.plot(hours6(len(oper_t)), oper_t, color='#00dd00', lw=2.4)

# temperature layer on top of the precipitation layer
ax.set_zorder(ax2.get_zorder() + 1)
ax.patch.set_visible(False)
fig.patch.set_facecolor('black')

ax.set_xlim(0, 384)
ax.set_ylim(-10, 35)
ax2.set_ylim(0, 40)

days = np.arange(0, 385, 24)
ax.set_xticks(days)
ax.set_xticklabels([(start + timedelta(hours=int(h))).strftime('%d%b 00z') if (h // 24) % 2 == 0 else ''
                    for h in days])
ax.tick_params(axis='x', colors='white', labelsize=8, direction='in', top=True, length=4)
ax.set_yticks(np.arange(-10, 36, 5))
ax.tick_params(axis='y', colors='white', labelsize=8, direction='in', length=4, pad=9)
ax2.set_yticks(np.arange(0, 41, 10))
ax2.set_yticks(np.arange(0, 41, 1), minor=True)
ax2.tick_params(axis='y', which='both', colors='white', labelsize=8, direction='in')
ax2.tick_params(axis='y', which='major', length=6)
ax2.tick_params(axis='y', which='minor', length=4)

ax.grid(True, color='#454545', linestyle=(0, (4, 4)), lw=0.9)
for a in (ax, ax2):
    for s in a.spines.values():
        s.set_color('white')

ax.set_ylabel('850 hPa Temp. (°C)', color='white', fontsize=7.5)
ax.yaxis.set_label_coords((132 - 163) / 648, 0.5)
ax2.set_ylabel('Neerslag (mm)', color='white', fontsize=7.5)
ax.set_xlabel('Date (UTC)', color='white', fontsize=7.5, labelpad=4)

fig.text(435 / W, 1 - 12 / H, 'De Bilt  (NL)  850 hPa Temp. & Neerslag | Thu, 27Aug2026 12Z',
         color='white', fontsize=11.5, fontweight='bold', ha='center', va='center')
fig.text(120 / W, 1 - 599 / H, 'GFS Ensemble, 52N, 5E', color='white', fontsize=12, ha='left', va='center')
fig.text(794 / W, 1 - 599 / H, 'Wetterzentrale.de', color='white', fontsize=12, ha='right', va='center')


# legend drawn in pixel positions on the left margin
def legend_entry(x_line, y, color, label, lw=2.0):
    fig.add_artist(Line2D([x_line / W, (x_line + 9) / W], [1 - y / H, 1 - y / H],
                          color=color, lw=lw, transform=fig.transFigure))
    fig.text((x_line + 9) / W, 1 - y / H, label, color='white', fontsize=8,
             ha='left', va='center', linespacing=0.95)


for k in range(15):
    y = 40 + 15 * k
    legend_entry(0, y, member_colors[(2 * k) % 20], 'P%d' % (2 * k + 1))
    legend_entry(54, y, member_colors[(2 * k + 1) % 20], 'P%d' % (2 * k + 2))
legend_entry(0, 265, '#0000ff', 'Control')
legend_entry(54, 265, 'white', 'Ens. mean')
fig.add_artist(Line2D([54 / W, 63 / W], [1 - 293 / H, 1 - 293 / H], color='#ee4040', lw=2.0,
                      transform=fig.transFigure))
fig.text(63 / W, 1 - 298 / H, '1991-2020\nmean', color='white', fontsize=8, ha='left', va='center',
         linespacing=0.9)
legend_entry(0, 305, '#00dd00', 'Oper')

fig.savefig('out.png', dpi=100, facecolor='black')
